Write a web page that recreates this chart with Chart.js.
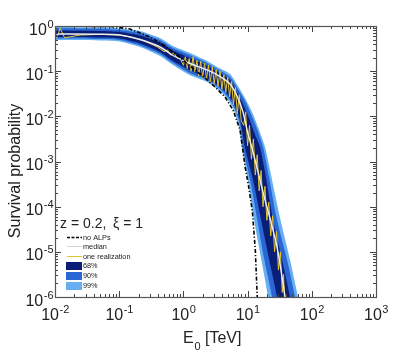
<!DOCTYPE html>
<html><head><meta charset="utf-8">
<script src="https://cdn.jsdelivr.net/npm/chart.js@4.4.1/dist/chart.umd.min.js"></script>
<style>html,body{margin:0;padding:0;background:#fff}#wrap{width:415px;height:354px;position:relative}</style>
</head><body><div id="wrap"><canvas id="c" width="415" height="354"></canvas></div>
<script>
// All series given as [log10(E / TeV), log10(P)] pairs
const xTickExps = [-2, -1, 0, 1, 2, 3];
const yTickExps = [0, -1, -2, -3, -4, -5, -6];

const band99Upper = [[-2.0,-0.02],[-1.3,-0.03],[-0.99,-0.055],[-0.68,-0.11],[-0.364,-0.265],[-0.162,-0.442],[0.103,-0.597],[0.368,-0.774],[0.555,-0.929],[0.726,-1.062],[0.85,-1.327],[0.96,-1.593],[1.069,-1.903],[1.162,-2.235],[1.271,-2.677],[1.349,-3.186],[1.505,-4.248],[1.66,-5.177],[1.785,-5.996],[1.894,-6.726]];
const band99Lower = [[-2.0,-0.31],[-1.3,-0.32],[-0.99,-0.343],[-0.676,-0.465],[-0.364,-0.664],[-0.162,-0.863],[0.103,-1.09],[0.368,-1.24],[0.617,-1.504],[0.773,-1.814],[0.866,-2.235],[0.913,-2.721],[1.006,-3.407],[1.1,-4.292],[1.209,-5.133],[1.318,-5.996],[1.38,-6.615]];
const band90Upper = [[-2.0,-0.051],[-1.299,-0.06],[-0.988,-0.088],[-0.676,-0.155],[-0.364,-0.31],[-0.162,-0.487],[0.103,-0.642],[0.368,-0.819],[0.555,-0.973],[0.726,-1.128],[0.85,-1.394],[0.96,-1.659],[1.053,-1.947],[1.146,-2.279],[1.24,-2.677],[1.318,-3.23],[1.458,-4.292],[1.614,-5.177],[1.738,-5.996],[1.847,-6.726]];
const band90Lower = [[-2.0,-0.277],[-1.299,-0.288],[-0.988,-0.31],[-0.676,-0.431],[-0.364,-0.619],[-0.162,-0.819],[0.103,-1.045],[0.368,-1.19],[0.617,-1.45],[0.77,-1.74],[0.88,-2.17],[0.93,-2.70],[1.04,-3.41],[1.15,-4.29],[1.255,-5.133],[1.38,-5.996],[1.442,-6.615]];
const band68Upper = [[-2.0,-0.1],[-1.299,-0.111],[-0.988,-0.133],[-0.676,-0.21],[-0.364,-0.365],[-0.162,-0.542],[0.103,-0.708],[0.368,-0.874],[0.555,-1.029],[0.726,-1.195],[0.835,-1.46],[0.928,-1.726],[1.022,-2.035],[1.1,-2.345],[1.193,-2.677],[1.271,-3.23],[1.396,-4.292],[1.536,-5.177],[1.66,-5.996],[1.754,-6.726]];
const band68Lower = [[-2.0,-0.243],[-1.299,-0.254],[-0.988,-0.277],[-0.676,-0.387],[-0.364,-0.575],[-0.162,-0.774],[0.103,-0.98],[0.368,-1.15],[0.617,-1.40],[0.77,-1.67],[0.88,-2.06],[0.96,-2.70],[1.085,-3.41],[1.21,-4.29],[1.33,-5.133],[1.458,-5.996],[1.52,-6.615]];
const medianCurve = [[-2.0,-0.177],[-1.299,-0.181],[-0.988,-0.199],[-0.676,-0.299],[-0.364,-0.465],[-0.162,-0.653],[0.103,-0.83],[0.368,-0.973],[0.555,-1.106],[0.726,-1.283],[0.835,-1.549],[0.928,-1.903],[0.991,-2.301],[1.084,-2.788],[1.178,-3.319],[1.271,-3.85],[1.364,-4.336],[1.458,-4.889],[1.52,-5.398],[1.583,-5.996],[1.66,-6.726]];
const noALPs = [[-2.0,0.0],[-1.143,-0.011],[-0.832,-0.066],[-0.52,-0.243],[-0.287,-0.442],[-0.1,-0.642],[0.103,-0.885],[0.336,-1.15],[0.492,-1.35],[0.648,-1.571],[0.773,-1.858],[0.882,-2.301],[0.965,-3.15],[1.012,-3.518],[1.075,-4.115],[1.12,-4.956],[1.15,-5.996],[1.166,-6.504]];
const oneRealization = [[-2.0,-0.22],[-1.97,-0.26],[-1.92,-0.05],[-1.85,-0.26],[-1.77,-0.24],[-1.61,-0.2],[-1.3,-0.185],[-1.0,-0.2],[-0.8,-0.25],[-0.65,-0.31],[-0.5,-0.4],[-0.4,-0.47],[-0.3,-0.57],[-0.25,-0.53],[-0.2,-0.64],[-0.15,-0.6],[-0.1,-0.7],[-0.05,-0.72],
 [0.0,-0.87],[0.03,-0.68],[0.06,-0.94],[0.09,-0.72],[0.12,-1.0],[0.15,-0.68],[0.18,-1.02],[0.21,-0.76],[0.24,-1.1],[0.27,-0.78],[0.3,-1.14],[0.33,-0.82],[0.36,-1.18],[0.39,-0.86],[0.42,-1.24],[0.45,-0.9],[0.48,-1.28],[0.51,-0.96],[0.54,-1.34],[0.57,-1.0],[0.6,-1.4],[0.63,-1.08],[0.66,-1.47],[0.69,-1.13],[0.72,-1.57],[0.75,-1.23],[0.78,-1.74],[0.81,-1.36],[0.84,-1.94],[0.87,-1.53],[0.9,-2.1],
 [0.94,-2.2],[0.97,-1.9],[1.0,-2.65],[1.03,-2.2],[1.06,-2.95],[1.09,-2.5],[1.12,-3.3],[1.15,-2.85],[1.18,-3.65],[1.21,-3.2],[1.24,-4.0],[1.27,-3.55],[1.3,-4.3],[1.33,-3.9],[1.36,-4.65],[1.39,-4.2],[1.42,-5.0],[1.45,-4.55],[1.48,-5.4],[1.51,-5.0],[1.54,-5.9],[1.56,-5.5],[1.59,-6.6]];

const legendLabels = ['no ALPs', 'median', 'one realization', '68%', '90%', '99%'];
const infoText = ['z = 0.2,', '\u03BE = 1'];

const C68 = '#0a1e78', C90 = '#2a66d4', C99 = '#66b0f2', CY = '#e2c52c';
const toPts = a => a.map(p => ({x: Math.pow(10, p[0]), y: Math.pow(10, p[1])}));
const poly = (u, l) => toPts(u.concat(l.slice().reverse()));
const FF = '"Liberation Sans", Arial, sans-serif';

function drawPow(ctx, exp, x, base, align) {
  const es = String(exp);
  ctx.font = '16px ' + FF; const w1 = ctx.measureText('10').width;
  ctx.font = '11px ' + FF; const w2 = ctx.measureText(es).width;
  const sx = align === 'center' ? x - (w1 + w2) / 2 : x - (w1 + w2);
  ctx.textAlign = 'left'; ctx.textBaseline = 'alphabetic';
  ctx.font = '16px ' + FF; ctx.fillText('10', sx, base);
  ctx.font = '11px ' + FF; ctx.fillText(es, sx + w1 + 0.5, base - 7);
}

const decor = {
  id: 'decor',
  afterDraw(chart) {
    const ctx = chart.ctx, a = chart.chartArea, xs = chart.scales.x, ys = chart.scales.y;
    ctx.save();
    ctx.strokeStyle = '#444'; ctx.lineWidth = 1;
    ctx.beginPath();
    for (let d = -2; d <= 3; d++) for (let m = 1; m <= 9; m++) {
      if (d === 3 && m > 1) break;
      const px = Math.round(xs.getPixelForValue(m * Math.pow(10, d))) + 0.5;
      const len = m === 1 ? 6 : 3;
      ctx.moveTo(px, a.bottom); ctx.lineTo(px, a.bottom - len);
      ctx.moveTo(px, a.top); ctx.lineTo(px, a.top + len);
    }
    for (let d = -6; d <= 0; d++) for (let m = 1; m <= 9; m++) {
      if (d === 0 && m > 1) break;
      const py = Math.round(ys.getPixelForValue(m * Math.pow(10, d))) + 0.5;
      const len = m === 1 ? 6 : 3;
      ctx.moveTo(a.left, py); ctx.lineTo(a.left + len, py);
      ctx.moveTo(a.right, py); ctx.lineTo(a.right - len, py);
    }
    ctx.stroke();
    ctx.strokeStyle = '#555'; ctx.lineWidth = 1.2;
    ctx.strokeRect(a.left + 0.5, a.top + 0.5, a.right - a.left, a.bottom - a.top);

    ctx.fillStyle = '#222';
    xTickExps.forEach(e => drawPow(ctx, e, xs.getPixelForValue(Math.pow(10, e)), 320, 'center'));
    yTickExps.forEach(e => { const py = ys.getPixelForValue(Math.pow(10, e)); drawPow(ctx, e, 53, py + 8.5, 'right'); });

    ctx.save();
    ctx.translate(20, 171); ctx.rotate(-Math.PI / 2);
    ctx.font = '16px ' + FF; ctx.textAlign = 'center'; ctx.textBaseline = 'alphabetic';
    ctx.fillText('Survival probability', 0, 0);
    ctx.restore();
    ctx.textAlign = 'left'; ctx.textBaseline = 'alphabetic';
    ctx.font = '16px ' + FF; ctx.fillText('E', 183, 343);
    ctx.font = '11px ' + FF; ctx.fillText('0', 194.5, 350);
    ctx.font = '16px ' + FF; ctx.fillText('[TeV]', 205, 343);

    ctx.font = '14px ' + FF;
    ctx.fillText(infoText[0], 60, 228);
    ctx.fillText(infoText[1], 113, 228);

    ctx.lineWidth = 1.4;
    ctx.strokeStyle = '#000'; ctx.setLineDash([3, 1.5]);
    ctx.beginPath(); ctx.moveTo(67, 237.5); ctx.lineTo(82, 237.5); ctx.stroke();
    ctx.setLineDash([]);
    ctx.lineWidth = 1;
    ctx.strokeStyle = '#d4d4d4';
    ctx.beginPath(); ctx.moveTo(67, 246.5); ctx.lineTo(82, 246.5); ctx.stroke();
    ctx.strokeStyle = CY;
    ctx.beginPath(); ctx.moveTo(67, 256.5); ctx.lineTo(82, 256.5); ctx.stroke();
    ctx.fillStyle = C68; ctx.fillRect(66, 262, 16, 8);
    ctx.fillStyle = C90; ctx.fillRect(66, 272, 16, 8);
    ctx.fillStyle = C99; ctx.fillRect(66, 282, 16, 8);
    ctx.fillStyle = '#1a1a1a';
    ctx.font = '7.3px ' + FF; ctx.textBaseline = 'middle';
    const ys2 = [237.5, 246.5, 256.8, 266.3, 276.3, 286.3];
    legendLabels.forEach((t, i) => ctx.fillText(t, 83, ys2[i]));
    ctx.restore();
  }
};

new Chart(document.getElementById('c'), {
  type: 'scatter',
  data: {
    datasets: [
      {label: 'no ALPs', data: toPts(noALPs), showLine: true, borderColor: '#000', borderWidth: 1.6, borderDash: [4, 2, 1.2, 2], pointRadius: 0, fill: false, order: 0},
      {label: 'median', data: toPts(medianCurve), showLine: true, borderColor: '#eeeeee', borderWidth: 1.4, pointRadius: 0, fill: false, tension: 0.3, order: 1},
      {label: 'one realization', data: toPts(oneRealization), showLine: true, borderColor: CY, borderWidth: 1, pointRadius: 0, fill: false, order: 2},
      {label: '68%', data: poly(band68Upper, band68Lower), showLine: true, borderWidth: 0, borderColor: 'rgba(0,0,0,0)', backgroundColor: C68, pointRadius: 0, fill: 'shape', tension: 0.25, order: 3},
      {label: '90%', data: poly(band90Upper, band90Lower), showLine: true, borderWidth: 0, borderColor: 'rgba(0,0,0,0)', backgroundColor: C90, pointRadius: 0, fill: 'shape', tension: 0.25, order: 4},
      {label: '99%', data: poly(band99Upper, band99Lower), showLine: true, borderWidth: 0, borderColor: 'rgba(0,0,0,0)', backgroundColor: C99, pointRadius: 0, fill: 'shape', tension: 0.25, order: 5}
    ]
  },
  options: {
    responsive: false, animation: false, devicePixelRatio: 1,
    layout: {padding: {top: 26, right: 39, left: 0, bottom: 0}},
    scales: {
      x: {type: 'logarithmic', min: 1e-2, max: 1e3, ticks: {display: false}, grid: {display: false}, border: {display: false}, afterFit(s) { s.height = 57; }},
      y: {type: 'logarithmic', min: 1e-6, max: 1, ticks: {display: false}, grid: {display: false}, border: {display: false}, afterFit(s) { s.width = 55; }}
    },
    plugins: {legend: {display: false}, tooltip: {enabled: false}}
  },
  plugins: [decor]
});
</script></body></html>
